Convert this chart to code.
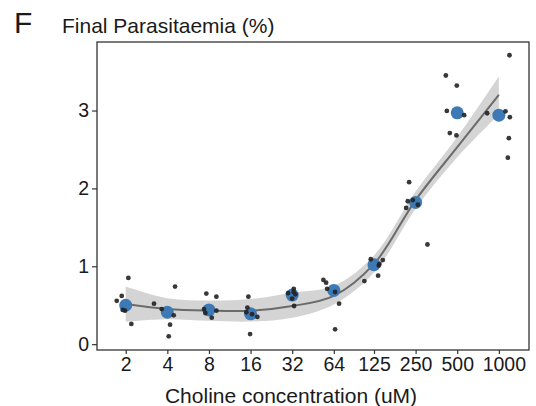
<!DOCTYPE html>
<html>
<head>
<meta charset="utf-8">
<script src="https://cdn.jsdelivr.net/npm/d3@7"></script>
<style>
  body { margin: 0; background: #fff; }
  text { font-family: "Liberation Sans", Arial, Helvetica, sans-serif; }
</style>
</head>
<body>
<div id="chart"></div>
<script>
// Choline concentrations (uM)
const concentrations = [2, 4, 8, 16, 32, 64, 125, 250, 500, 1000];

// Group means (blue points)
const means = [0.50, 0.41, 0.44, 0.39, 0.63, 0.69, 1.02, 1.82, 2.97, 2.94];

// Replicates per concentration (black points) and their horizontal jitter (log2 units)
const replicates = [
  [0.556, 0.62, 0.85, 0.44, 0.43, 0.26],
  [0.52, 0.45, 0.74, 0.37, 0.25, 0.10],
  [0.65, 0.61, 0.45, 0.40, 0.43, 0.34],
  [0.61, 0.47, 0.41, 0.385, 0.35, 0.13],
  [0.655, 0.71, 0.64, 0.585, 0.49, 0.67],
  [0.825, 0.79, 0.71, 0.67, 0.52, 0.19],
  [1.09, 1.08, 1.03, 0.88, 0.81, 1.01],
  [2.08, 1.835, 1.85, 1.79, 1.75, 1.28],
  [3.45, 3.32, 2.995, 2.94, 2.71, 2.68],
  [3.71, 2.965, 2.99, 2.915, 2.645, 2.395],
];
const jitter = [
  [-0.216, -0.096, 0.063, -0.072, -0.017, 0.135],
  [-0.32, -0.135, 0.185, 0.154, 0.065, 0.034],
  [-0.063, 0.178, -0.118, -0.087, 0.178, 0.067],
  [-0.053, -0.077, -0.101, 0.036, 0.163, -0.012],
  [-0.099, 0.038, 0.077, -0.002, 0.046, 0.034],
  [-0.25, -0.185, -0.161, 0.031, 0.127, 0.031],
  [-0.077, 0.212, 0.13, 0.099, -0.231, 0.115],
  [-0.156, -0.188, -0.067, 0.053, -0.228, 0.284],
  [-0.274, -0.01, -0.25, 0.166, -0.178, -0.019],
  [0.255, -0.281, 0.159, 0.264, 0.24, 0.216],
];

// Smooth fit and its confidence band
const fitLine = [0.515, 0.45, 0.43, 0.43, 0.49, 0.62, 1.03, 1.85, 2.53, 3.20];
const fitUpper = [0.74, 0.59, 0.56, 0.58, 0.66, 0.75, 1.14, 1.96, 2.66, 3.44];
const fitLower = [0.29, 0.32, 0.30, 0.29, 0.34, 0.51, 0.92, 1.74, 2.40, 2.95];

const yTicks = [0, 1, 2, 3];

const width = 536;
const height = 406;
const margin = { top: 42, right: 7, bottom: 56, left: 97 };

const svg = d3
  .select("#chart")
  .append("svg")
  .attr("width", width)
  .attr("height", height);

const x = d3
  .scaleLog()
  .base(2)
  .domain([Math.pow(2, 0.31), Math.pow(2, 10.69)])
  .range([margin.left, width - margin.right]);

const y = d3
  .scaleLinear()
  .domain([-0.075, 3.88])
  .range([height - margin.bottom, margin.top]);

const jx = (c, j) => x(c * Math.pow(2, j));

// Confidence band
const fitData = concentrations.map((c, i) => ({
  c,
  v: fitLine[i],
  lo: fitLower[i],
  hi: fitUpper[i],
}));

svg
  .append("path")
  .datum(fitData)
  .attr(
    "d",
    d3
      .area()
      .x((d) => x(d.c))
      .y0((d) => y(d.lo))
      .y1((d) => y(d.hi))
      .curve(d3.curveCatmullRom.alpha(0.5))
  )
  .attr("fill", "#d4d4d4");

svg
  .append("path")
  .datum(fitData)
  .attr(
    "d",
    d3
      .line()
      .x((d) => x(d.c))
      .y((d) => y(d.v))
      .curve(d3.curveCatmullRom.alpha(0.5))
  )
  .attr("fill", "none")
  .attr("stroke", "#6b6b6b")
  .attr("stroke-width", 2);

// Means
svg
  .append("g")
  .selectAll("circle")
  .data(concentrations)
  .join("circle")
  .attr("cx", (d) => x(d))
  .attr("cy", (d, i) => y(means[i]))
  .attr("r", 6.5)
  .attr("fill", "#3d7ab5");

// Replicates
const points = [];
concentrations.forEach((c, i) => {
  replicates[i].forEach((v, k) => points.push({ c, v, j: jitter[i][k] }));
});

svg
  .append("g")
  .selectAll("circle")
  .data(points)
  .join("circle")
  .attr("cx", (d) => jx(d.c, d.j))
  .attr("cy", (d) => y(d.v))
  .attr("r", 2.4)
  .attr("fill", "#222")
  .attr("fill-opacity", 0.9);

// Panel frame
svg
  .append("rect")
  .attr("x", margin.left)
  .attr("y", margin.top)
  .attr("width", width - margin.left - margin.right)
  .attr("height", height - margin.top - margin.bottom)
  .attr("fill", "none")
  .attr("stroke", "#333")
  .attr("stroke-width", 1.3);

// Axes
const xAxis = svg
  .append("g")
  .attr("transform", `translate(0,${height - margin.bottom})`)
  .call(
    d3
      .axisBottom(x)
      .tickValues(concentrations)
      .tickFormat((d) => d)
      .tickSize(4)
      .tickPadding(3)
  );
xAxis.select(".domain").remove();
xAxis.selectAll("line").attr("stroke", "#333").attr("stroke-width", 1.2);
xAxis
  .selectAll("text")
  .attr("fill", "#1a1a1a")
  .attr("dx", (d) => (d === 1000 ? 5 : 0))
  .style("font-size", "19.5px");

const yAxis = svg
  .append("g")
  .attr("transform", `translate(${margin.left},0)`)
  .call(
    d3
      .axisLeft(y)
      .tickValues(yTicks)
      .tickFormat(d3.format("d"))
      .tickSize(5)
      .tickPadding(3)
  );
yAxis.select(".domain").remove();
yAxis.selectAll("line").attr("stroke", "#333").attr("stroke-width", 1.2);
yAxis
  .selectAll("text")
  .attr("fill", "#1a1a1a")
  .style("font-size", "19.5px");

// Titles
svg
  .append("text")
  .attr("x", 14)
  .attr("y", 33)
  .attr("fill", "#1a1a1a")
  .style("font-size", "30px")
  .text("F");

svg
  .append("text")
  .attr("x", 62)
  .attr("y", 33)
  .attr("fill", "#1a1a1a")
  .style("font-size", "21px")
  .text("Final Parasitaemia (%)");

svg
  .append("text")
  .attr("x", 291)
  .attr("y", 403)
  .attr("text-anchor", "middle")
  .attr("fill", "#1a1a1a")
  .style("font-size", "21px")
  .text("Choline concentration (uM)");
</script>
</body>
</html>
